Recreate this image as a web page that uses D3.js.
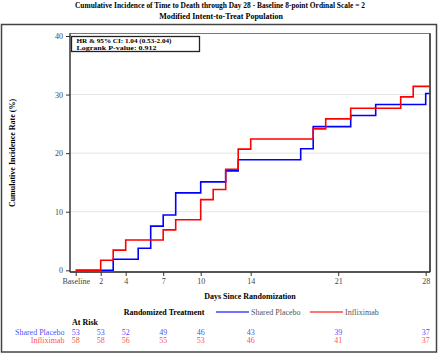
<!DOCTYPE html>
<html>
<head>
<meta charset="utf-8">
<script src="https://cdn.jsdelivr.net/npm/d3@7"></script>
<style>
  body { margin: 0; background: #fff; }
  text { font-family: "Liberation Serif", "Times New Roman", serif; }
</style>
</head>
<body>
<div id="chart"></div>
<script>
// step data (day of jump, cumulative incidence %)
let placeboDays   = [0, 3, 5, 6, 7, 8, 10, 12, 13, 18, 19, 22, 24, 28];
let placeboValues = [0, 1.89, 3.77, 7.55, 9.43, 13.21, 15.09, 16.98, 18.87, 20.75, 24.53, 26.42, 28.30, 30.19];
let inflixDays    = [0, 2, 3, 4, 7, 8, 10, 11, 12, 13, 14, 19, 20, 22, 26, 27];
let inflixValues  = [0, 1.72, 3.45, 5.17, 6.90, 8.62, 12.07, 13.79, 17.24, 20.69, 22.41, 24.14, 25.86, 27.67, 29.6, 31.4];
let lastDay = 28.3;

let tickDays   = [0, 2, 4, 7, 10, 14, 21, 28];
let tickLabels = ["Baseline", "2", "4", "7", "10", "14", "21", "28"];
let yTicks     = [0, 10, 20, 30, 40];

let placeboAtRisk = [53, 53, 52, 49, 46, 43, 39, 37];
let inflixAtRisk  = [58, 58, 56, 55, 53, 46, 41, 37];

let groups = ["Shared Placebo", "Infliximab"];
let groupColors = ["#0000ff", "#ff0000"];

let width = 440, height = 354;

let svg = d3.select("#chart").append("svg")
    .attr("width", width)
    .attr("height", height);

// outer frame
svg.append("rect")
    .attr("x", 1.5).attr("y", 24.5)
    .attr("width", 435).attr("height", 327.5)
    .attr("fill", "none").attr("stroke", "#444").attr("stroke-width", 1.5);

// titles
svg.append("text")
    .attr("x", 220).attr("y", 8)
    .attr("text-anchor", "middle")
    .attr("textLength", 290).attr("lengthAdjust", "spacingAndGlyphs")
    .style("font-size", "8px").style("font-weight", "bold")
    .text("Cumulative Incidence of Time to Death through Day 28 - Baseline 8-point Ordinal Scale = 2");
svg.append("text")
    .attr("x", 221).attr("y", 19)
    .attr("text-anchor", "middle")
    .style("font-size", "8px").style("font-weight", "bold")
    .text("Modified Intent-to-Treat Population");

let xScale = d3.scaleLinear().domain([0, 28]).range([75.7, 425.7]);
let yScale = d3.scaleLinear().domain([0, 40]).range([270.3, 36]);

let plotLeft = 70, plotRight = 430, plotTop = 33.5, plotBottom = 272;

// grid lines
svg.append("g")
    .selectAll("line")
    .data(yTicks.filter(d => d > 0 && d < 40))
    .enter()
    .append("line")
    .attr("x1", plotLeft).attr("x2", plotRight)
    .attr("y1", d => yScale(d)).attr("y2", d => yScale(d))
    .attr("stroke", "#e4e4e4").attr("stroke-width", 1);

// plot box
svg.append("rect")
    .attr("x", plotLeft).attr("y", plotTop)
    .attr("width", plotRight - plotLeft).attr("height", plotBottom - plotTop)
    .attr("fill", "none").attr("stroke", "#777").attr("stroke-width", 1);
svg.append("line")
    .attr("x1", plotRight).attr("x2", plotRight)
    .attr("y1", plotTop).attr("y2", plotBottom)
    .attr("stroke", "#333").attr("stroke-width", 1.5);
svg.append("line")
    .attr("x1", plotLeft).attr("x2", plotRight)
    .attr("y1", plotBottom).attr("y2", plotBottom)
    .attr("stroke", "#333").attr("stroke-width", 1.5);
svg.append("line")
    .attr("x1", plotLeft).attr("x2", plotLeft)
    .attr("y1", plotTop).attr("y2", plotBottom)
    .attr("stroke", "#333").attr("stroke-width", 1.2);

// y axis
let yAxis = d3.axisLeft(yScale).tickValues(yTicks).tickSize(4).tickPadding(3);
let yG = svg.append("g")
    .attr("transform", "translate(" + plotLeft + ",0)")
    .call(yAxis);
yG.select(".domain").remove();
yG.selectAll("line").attr("stroke", "#333");
yG.selectAll("text")
    .attr("fill", "#444")
    .style("font-size", "8px")
    .style("font-family", "Liberation Serif, serif");

// x axis
let xAxis = d3.axisBottom(xScale).tickValues(tickDays)
    .tickFormat((d, i) => tickLabels[i]).tickSize(4).tickPadding(2);
let xG = svg.append("g")
    .attr("transform", "translate(0," + plotBottom + ")")
    .call(xAxis);
xG.select(".domain").remove();
xG.selectAll("line").attr("stroke", "#333");
xG.selectAll("text")
    .attr("fill", "#444")
    .style("font-size", "8px")
    .style("font-family", "Liberation Serif, serif");

// axis labels
svg.append("text")
    .attr("x", 250).attr("y", 299)
    .attr("text-anchor", "middle")
    .style("font-size", "8px").style("font-weight", "bold")
    .text("Days Since Randomization");
svg.append("text")
    .attr("transform", "translate(15,153) rotate(-90)")
    .attr("text-anchor", "middle")
    .style("font-size", "8px").style("font-weight", "bold")
    .text("Cumulative Incidence Rate (%)");

// step curves
let stepLine = d3.line()
    .x(d => xScale(d[0]))
    .y(d => yScale(d[1]))
    .curve(d3.curveStepAfter);

function toSteps(days, values) {
    let pts = days.map((d, i) => [d, values[i]]);
    pts.push([lastDay, values[values.length - 1]]);
    return pts;
}

svg.append("path")
    .datum(toSteps(placeboDays, placeboValues))
    .attr("d", stepLine)
    .attr("fill", "none").attr("stroke", groupColors[0]).attr("stroke-width", 1.6);
svg.append("path")
    .datum(toSteps(inflixDays, inflixValues))
    .attr("d", stepLine)
    .attr("fill", "none").attr("stroke", groupColors[1]).attr("stroke-width", 1.6);

// HR box
svg.append("rect")
    .attr("x", 71.5).attr("y", 36.5)
    .attr("width", 128).attr("height", 15)
    .attr("fill", "#fff").attr("stroke", "#222").attr("stroke-width", 1.3);
svg.append("text")
    .attr("x", 76.5).attr("y", 43.2)
    .attr("textLength", 95).attr("lengthAdjust", "spacingAndGlyphs")
    .style("font-size", "6.3px").style("font-weight", "bold")
    .text("HR & 95% CI:  1.04 (0.53-2.04)");
svg.append("text")
    .attr("x", 76.5).attr("y", 49.5)
    .attr("textLength", 80).attr("lengthAdjust", "spacingAndGlyphs")
    .style("font-size", "6.3px").style("font-weight", "bold")
    .text("Logrank P-value:  0.912");

// legend
svg.append("text")
    .attr("x", 164).attr("y", 314.5)
    .attr("text-anchor", "middle")
    .style("font-size", "8px").style("font-weight", "bold")
    .text("Randomized Treatment");
let legendX = [216, 310];
let legend = svg.append("g").selectAll("g")
    .data(groups)
    .enter()
    .append("g")
    .attr("transform", (d, i) => "translate(" + legendX[i] + ",312)");
legend.append("line")
    .attr("x1", 0).attr("x2", 33)
    .attr("stroke", (d, i) => groupColors[i])
    .attr("stroke-opacity", 0.55)
    .attr("stroke-width", 2);
legend.append("text")
    .attr("x", 35).attr("y", 2.5)
    .attr("fill", "#555")
    .style("font-size", "8px")
    .text(d => d);

// at risk table
svg.append("text")
    .attr("x", 72).attr("y", 325)
    .style("font-size", "8px").style("font-weight", "bold")
    .text("At Risk");

let riskRows = [placeboAtRisk, inflixAtRisk];
let rowY = [334.5, 342.5];
groups.forEach(function(g, i) {
    svg.append("text")
        .attr("x", 64.5).attr("y", rowY[i])
        .attr("text-anchor", "end")
        .attr("fill", groupColors[i]).attr("fill-opacity", 0.75)
        .style("font-size", "8px")
        .text(g);
    svg.append("g").selectAll("text")
        .data(riskRows[i])
        .enter()
        .append("text")
        .attr("x", (d, j) => xScale(tickDays[j]))
        .attr("y", rowY[i])
        .attr("text-anchor", "middle")
        .attr("fill", groupColors[i]).attr("fill-opacity", 0.75)
        .style("font-size", "8px")
        .text(d => d);
});
</script>
</body>
</html>
